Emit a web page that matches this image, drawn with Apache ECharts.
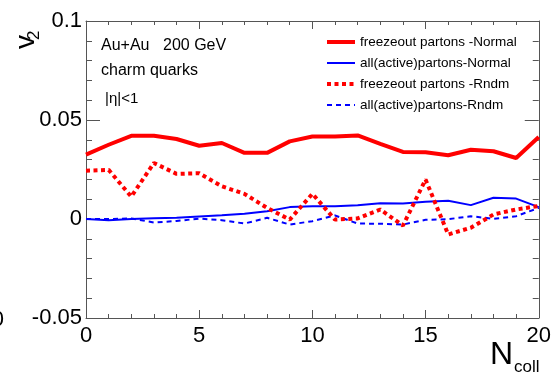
<!DOCTYPE html>
<html>
<head>
<meta charset="utf-8">
<script src="https://cdn.jsdelivr.net/npm/echarts@6/dist/echarts.min.js"></script>
<style>
  html, body { margin: 0; padding: 0; background: #fff; }
  #main { width: 554px; height: 377px; }
</style>
</head>
<body>
<div id="main"></div>
<script>
// N_coll values
var ncoll = [0, 1, 2, 3, 4, 5, 6, 7, 8, 9, 10, 11, 12, 13, 14, 15, 16, 17, 18, 19, 20];

// v2
var freezeNormal = [0.0325, 0.0375, 0.0420, 0.0420, 0.0404, 0.0370, 0.0384, 0.0334, 0.0334, 0.0392, 0.0417,
  0.0417, 0.0422, 0.0380, 0.0339, 0.0337, 0.0322, 0.0350, 0.0342, 0.0308, 0.0414];
var allNormal = [0.0000, -0.0006, 0.0000, 0.0004, 0.0006, 0.0013, 0.0019, 0.0026, 0.0039, 0.0060, 0.0065,
  0.0065, 0.0070, 0.0080, 0.0078, 0.0087, 0.0092, 0.0070, 0.0107, 0.0103, 0.0060];
var freezeRndm = [0.0244, 0.0248, 0.0113, 0.0283, 0.0228, 0.0231, 0.0165, 0.0127, 0.0056, -0.0003, 0.0127,
  -0.0003, 0.0003, 0.0048, -0.0033, 0.0199, -0.0078, -0.0044, 0.0023, 0.0048, 0.0066];
var allRndm = [0.0000, 0.0000, 0.0003, -0.0018, -0.0010, 0.0002, -0.0006, -0.0023, 0.0006, -0.0028, -0.0011,
  0.0018, -0.0023, -0.0024, -0.0028, -0.0004, -0.0001, 0.0014, 0.0001, 0.0014, 0.0056];

var seriesNames = ['freezeout partons -Normal', 'all(active)partons-Normal', 'freezeout partons -Rndm', 'all(active)partons-Rndm'];
var yTickLabels = { '-0.05': '-0.05', '0': '0', '0.05': '0.05', '0.1': '0.1' };

function pairs(vals) {
  return ncoll.map(function (x, i) { return [x, vals[i]]; });
}

var chart = echarts.init(document.getElementById('main'));
var axisColor = '#555';
var labelFont = 'Liberation Sans';

function xAx(pos, showLabel) {
  return {
    type: 'value', position: pos, min: 0, max: 20, interval: 5,
    axisLine: { show: true, onZero: false, lineStyle: { color: axisColor, width: 1 } },
    axisTick: { show: true, inside: true, length: 8, lineStyle: { color: axisColor } },
    minorTick: { show: true, splitNumber: 5, length: 4, lineStyle: { color: axisColor } },
    axisLabel: { show: showLabel, margin: 7, color: '#000', fontSize: 22, fontFamily: labelFont },
    splitLine: { show: false }
  };
}
function yAx(pos, showLabel) {
  return {
    type: 'value', position: pos, min: -0.05, max: 0.1, interval: 0.05,
    axisLine: { show: true, onZero: false, lineStyle: { color: axisColor, width: 1 } },
    axisTick: { show: true, inside: true, length: 14, lineStyle: { color: axisColor } },
    minorTick: { show: true, splitNumber: 5, length: 6, lineStyle: { color: axisColor } },
    axisLabel: {
      show: showLabel, margin: 4, color: '#000', fontSize: 22, fontFamily: labelFont,
      formatter: function (v) { var k = String(Math.round(v * 100) / 100); return yTickLabels[k] || k; }
    },
    splitLine: { show: false }
  };
}

var option = {
  animation: false,
  backgroundColor: '#fff',
  grid: { left: 86, right: 14, top: 21, bottom: 59 },
  xAxis: [xAx('bottom', true), xAx('top', false)],
  yAxis: [yAx('left', true), yAx('right', false)],
  legend: {
    orient: 'vertical', left: 325, top: 35, padding: 0,
    itemWidth: 28, itemHeight: 14, itemGap: 7,
    itemStyle: { opacity: 0, borderWidth: 0 },
    lineStyle: { width: 'inherit' },
    textStyle: { fontSize: 13.5, fontFamily: labelFont, color: '#000', lineHeight: 14 },
    data: seriesNames
  },
  graphic: [
    { type: 'text', left: 101, top: 38, style: { text: 'Au+Au', fontSize: 16, fontFamily: labelFont, fill: '#000' } },
    { type: 'text', left: 163, top: 38, style: { text: '200 GeV', fontSize: 16, fontFamily: labelFont, fill: '#000' } },
    { type: 'text', left: 101, top: 63, style: { text: 'charm quarks', fontSize: 16, fontFamily: labelFont, fill: '#000' } },
    { type: 'text', left: 105, top: 91, style: { text: '|η|<1', fontSize: 15, fontFamily: labelFont, fill: '#000' } },
    { type: 'text', x: 40, y: 49, rotation: Math.PI / 2, style: { text: 'v', fontSize: 28, fontFamily: labelFont, fill: '#000', align: 'left', verticalAlign: 'bottom' } },
    { type: 'text', x: 43, y: 40, rotation: Math.PI / 2, style: { text: '2', fontSize: 17, fontFamily: labelFont, fill: '#000', align: 'left', verticalAlign: 'bottom' } },
    { type: 'text', x: 490, y: 371, style: { text: 'N', fontSize: 32, fontFamily: labelFont, fill: '#000', align: 'left', verticalAlign: 'bottom' } },
    { type: 'text', x: 514, y: 376, style: { text: 'coll', fontSize: 17, fontFamily: labelFont, fill: '#000', align: 'left', verticalAlign: 'bottom' } },
    { type: 'text', x: 4, y: 320, style: { text: '0', fontSize: 22, fontFamily: labelFont, fill: '#000', align: 'right', verticalAlign: 'middle' } }
  ],
  series: [
    {
      name: seriesNames[0], type: 'line', data: pairs(freezeNormal), symbol: 'none', z: 4,
      lineStyle: { color: '#ff0000', width: 4 }, itemStyle: { color: '#ff0000' }
    },
    {
      name: seriesNames[1], type: 'line', data: pairs(allNormal), symbol: 'none', z: 2,
      lineStyle: { color: '#0000ff', width: 2 }, itemStyle: { color: '#0000ff' }
    },
    {
      name: seriesNames[2], type: 'line', data: pairs(freezeRndm), symbol: 'none', z: 3,
      lineStyle: { color: '#ff0000', width: 4, type: [4, 3.5], cap: 'butt' }, itemStyle: { color: '#ff0000' }
    },
    {
      name: seriesNames[3], type: 'line', data: pairs(allRndm), symbol: 'none', z: 2,
      lineStyle: { color: '#0000ff', width: 2, type: [5, 4] }, itemStyle: { color: '#0000ff' }
    }
  ]
};

chart.setOption(option);
</script>
</body>
</html>
